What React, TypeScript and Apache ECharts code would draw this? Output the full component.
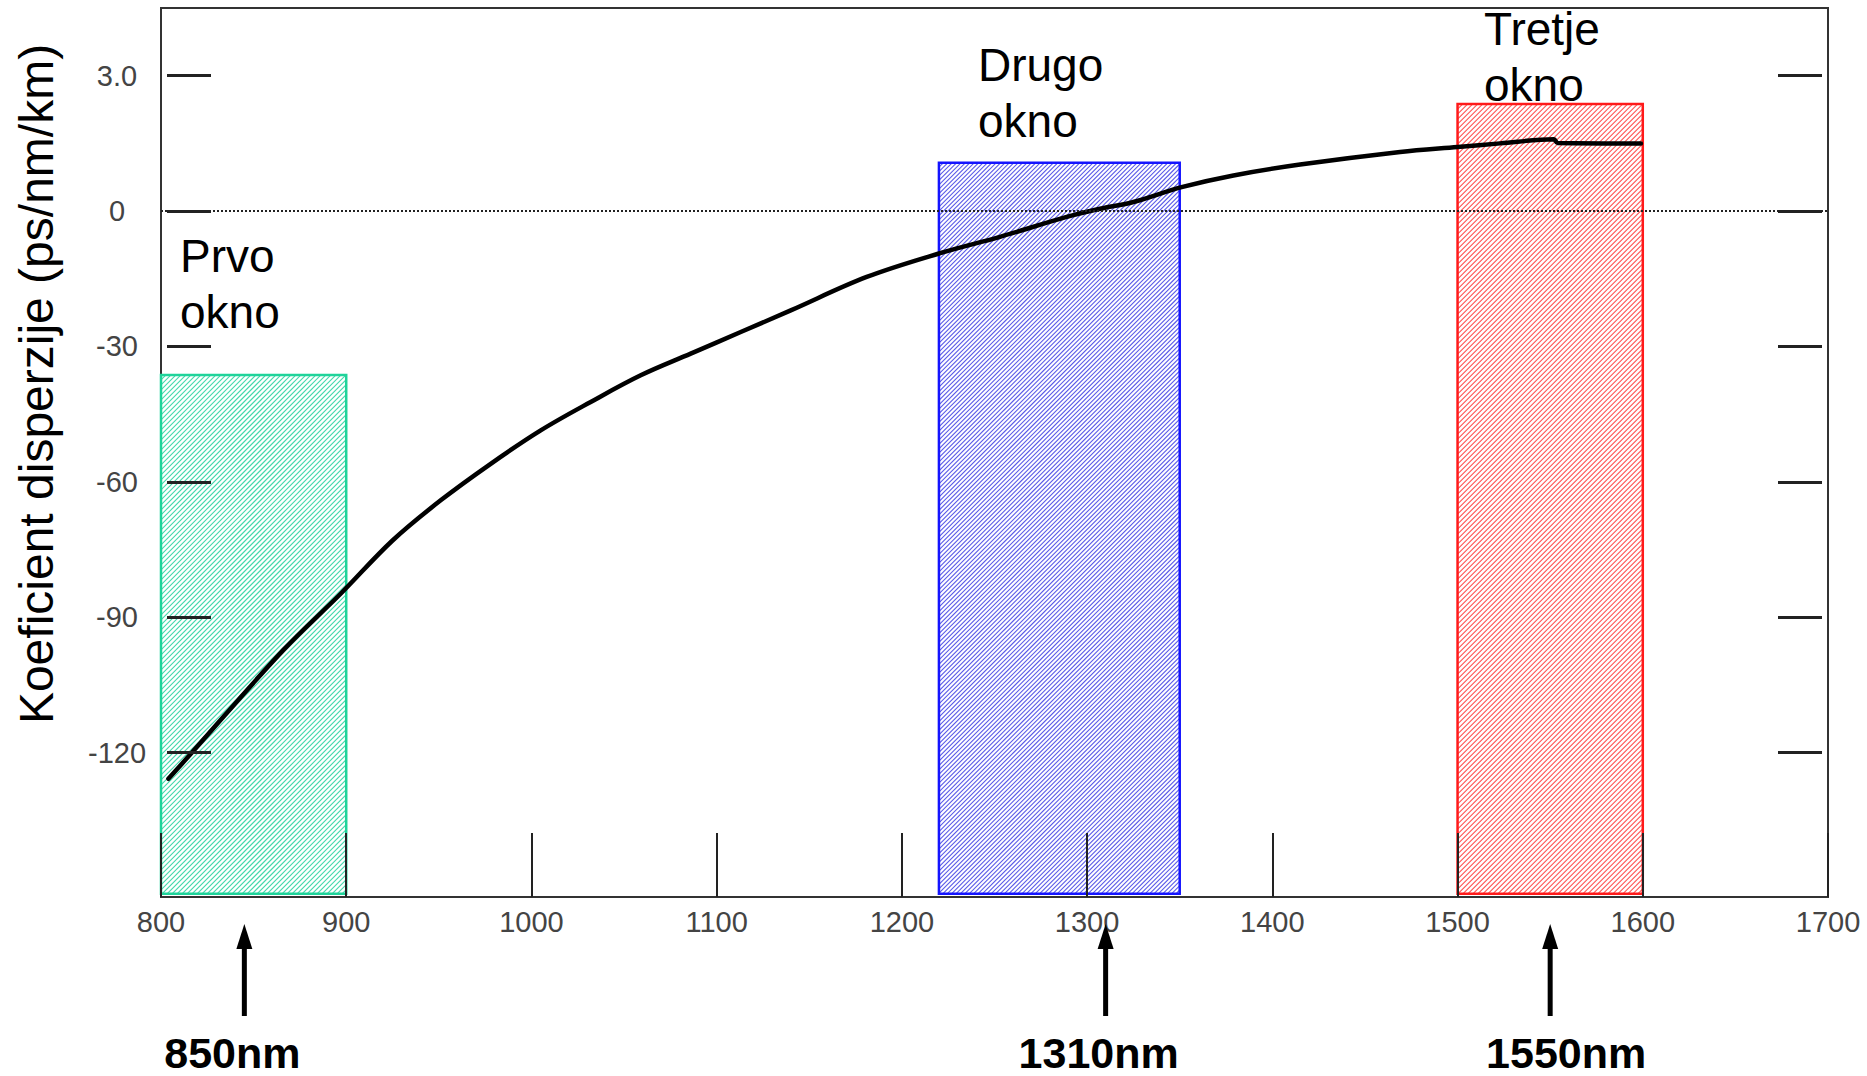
import React, { useEffect, useRef } from 'react';
import * as echarts from 'echarts';

// ---- data ----
const wavelengthNm = [804, 816, 866, 897, 925, 951, 978, 1005, 1032, 1059, 1086, 1113, 1140, 1181, 1220, 1253, 1289, 1307, 1325, 1351, 1379, 1415, 1469, 1500, 1523, 1552, 1554, 1599];
const dispersion = [-125.8, -120.3, -97.3, -84.8, -73.0, -64.1, -56.0, -48.6, -42.3, -36.4, -31.6, -26.8, -22.0, -14.6, -9.4, -5.7, -1.3, 0.5, 2.0, 5.3, 7.9, 10.3, 13.1, 14.2, 15.0, 15.9, 15.1, 15.0];

const windowNames = ['Prvo\nokno', 'Drugo\nokno', 'Tretje\nokno'];
const windowStart = [800, 1220, 1500];
const windowEnd = [900, 1350, 1600];
const windowTop = [-36.3, 10.7, 23.7];
const windowBottom = -151.3;
const windowColors = ['#1fd39a', '#1414ff', '#ff1a1a'];
const hatchColors = ['#40d8aa', '#5a5ae8', '#ff5252'];
const hatchSpacing = [5, 4.4, 5];

const yTickValues = [-120, -90, -60, -30, 0, 30];
const yTickLabels = ['-120', '-90', '-60', '-30', '0', '3.0'];

const arrowNm = [845, 1310, 1550];
const arrowLabels = ['850nm', '1310nm', '1550nm'];
const arrowLabelShift = [-12, -7, 16];

const yTitle = 'Koeficient disperzije (ps/nm/km)';
const X_MIN = 800;
const X_MAX = 1700;
const X_STEP = 100;
const Y_MIN = -152;
const Y_MAX = 45;

const FONT = 'Liberation Sans, Arial, sans-serif';

export default function App() {
  const ref = useRef<HTMLDivElement>(null);

  useEffect(() => {
    document.body.style.margin = '0';
    if (!ref.current) return;
    const chart = echarts.init(ref.current, null, { renderer: 'svg' });

    const curve = wavelengthNm.map((x, i) => [x, dispersion[i]]);
    const windows = windowStart.map((s, i) => [s, windowEnd[i], windowTop[i], i]);
    const arrows = arrowNm.map((v, i) => [v, i]);

    const yLabelFmt = (v: number) => {
      const k = yTickValues.indexOf(v);
      return k >= 0 ? yTickLabels[k] : '';
    };

    const tickLabelStyle = {
      fontFamily: FONT,
      fontSize: 29,
      color: '#444',
    };

    chart.setOption({
      animation: false,
      textStyle: { fontFamily: FONT },
      grid: {
        left: 161,
        right: 39,
        top: 8,
        bottom: 179,
        show: true,
        borderColor: '#333',
        borderWidth: 2,
        backgroundColor: 'transparent',
      },
      xAxis: {
        type: 'value',
        min: X_MIN,
        max: X_MAX,
        interval: X_STEP,
        position: 'bottom',
        z: 5,
        axisLine: { show: false, onZero: false },
        splitLine: { show: false },
        axisTick: { show: true, inside: true, length: 64, lineStyle: { color: '#222', width: 2 } },
        axisLabel: { ...tickLabelStyle, margin: 10, formatter: (v: number) => String(v) },
      },
      yAxis: [
        {
          type: 'value',
          min: Y_MIN,
          max: Y_MAX,
          position: 'left',
          offset: -6,
          z: 5,
          axisLine: { show: false, onZero: false },
          splitLine: { show: false },
          axisTick: { show: true, inside: true, length: 44, customValues: yTickValues, lineStyle: { color: '#222', width: 3 } },
          axisLabel: { ...tickLabelStyle, customValues: yTickValues, formatter: yLabelFmt, margin: 50, align: 'center' },
        },
        {
          type: 'value',
          min: Y_MIN,
          max: Y_MAX,
          position: 'right',
          offset: -6,
          z: 5,
          axisLine: { show: false, onZero: false },
          splitLine: { show: false },
          axisTick: { show: true, inside: true, length: 44, customValues: yTickValues, lineStyle: { color: '#222', width: 3 } },
          axisLabel: { show: false },
        },
      ],
      graphic: [
        {
          type: 'text',
          x: 36.5,
          y: 384,
          rotation: Math.PI / 2,
          style: {
            text: yTitle,
            fontFamily: FONT,
            fontSize: 48,
            fill: '#000',
            align: 'center',
            textAlign: 'center',
            verticalAlign: 'middle',
            textVerticalAlign: 'middle',
          },
        },
        ...[
          [180, 284],
          [978, 92.5],
          [1484, 56.5],
        ].map((p, i) => ({
          type: 'text',
          x: p[0],
          y: p[1],
          z: 20,
          style: {
            text: windowNames[i],
            fontFamily: FONT,
            fontSize: 46,
            lineHeight: 56,
            fill: '#000',
            align: 'left',
            textAlign: 'left',
            verticalAlign: 'middle',
            textVerticalAlign: 'middle',
          },
        })),
      ],
      series: [
        {
          type: 'custom',
          name: 'okna',
          z: 2,
          silent: true,
          encode: { x: [0, 1], y: 2 },
          data: windows,
          renderItem: (params: any, api: any) => {
            const i = api.value(3) as number;
            const p0 = api.coord([api.value(0), api.value(2)]);
            const p1 = api.coord([api.value(1), windowBottom]);
            const L = p0[0], T = p0[1], R = p1[0], B = p1[1];
            const children: any[] = [
              { type: 'rect', shape: { x: L, y: T, width: R - L, height: B - T }, style: { fill: '#fff' } },
            ];
            const s = hatchSpacing[i];
            for (let c = L + T; c <= R + B; c += s) {
              const xa = Math.max(L, c - B);
              const xb = Math.min(R, c - T);
              if (xb > xa) {
                children.push({
                  type: 'line',
                  shape: { x1: xa, y1: c - xa, x2: xb, y2: c - xb },
                  style: { stroke: hatchColors[i], lineWidth: 1.1 },
                });
              }
            }
            children.push({
              type: 'rect',
              shape: { x: L, y: T, width: R - L, height: B - T },
              style: { fill: 'none', stroke: windowColors[i], lineWidth: 2.5 },
            });
            return { type: 'group', children };
          },
        },
        {
          type: 'line',
          name: 'disperzija',
          z: 4,
          data: curve,
          showSymbol: false,
          smooth: 0.35,
          lineStyle: { color: '#000', width: 4.5, cap: 'round', join: 'round' },
          markLine: {
            silent: true,
            symbol: ['none', 'none'],
            label: { show: false },
            lineStyle: { color: '#222', width: 2, type: [2, 2] },
            data: [{ yAxis: 0 }],
          },
        },
        {
          type: 'custom',
          name: 'puscice',
          z: 6,
          clip: false,
          silent: true,
          encode: { x: 0, y: 1 },
          data: arrows,
          renderItem: (params: any, api: any) => {
            const i = api.value(1) as number;
            const p = api.coord([api.value(0), Y_MIN]);
            const x = p[0];
            const y = p[1];
            return {
              type: 'group',
              children: [
                { type: 'line', shape: { x1: x, y1: y + 45, x2: x, y2: y + 119 }, style: { stroke: '#000', lineWidth: 5 } },
                { type: 'polygon', shape: { points: [[x, y + 27], [x - 8, y + 52], [x + 8, y + 52]] }, style: { fill: '#000' } },
                {
                  type: 'text',
                  x: x + arrowLabelShift[i],
                  y: y + 156,
                  style: {
                    text: arrowLabels[i],
                    fontFamily: FONT,
                    fontSize: 43,
                    fontWeight: 'bold',
                    fill: '#000',
                    align: 'center',
                    textAlign: 'center',
                    verticalAlign: 'middle',
                    textVerticalAlign: 'middle',
                  },
                },
              ],
            };
          },
        },
      ],
    });

    return () => chart.dispose();
  }, []);

  return <div ref={ref} style={{ width: 1867, height: 1076 }} />;
}
